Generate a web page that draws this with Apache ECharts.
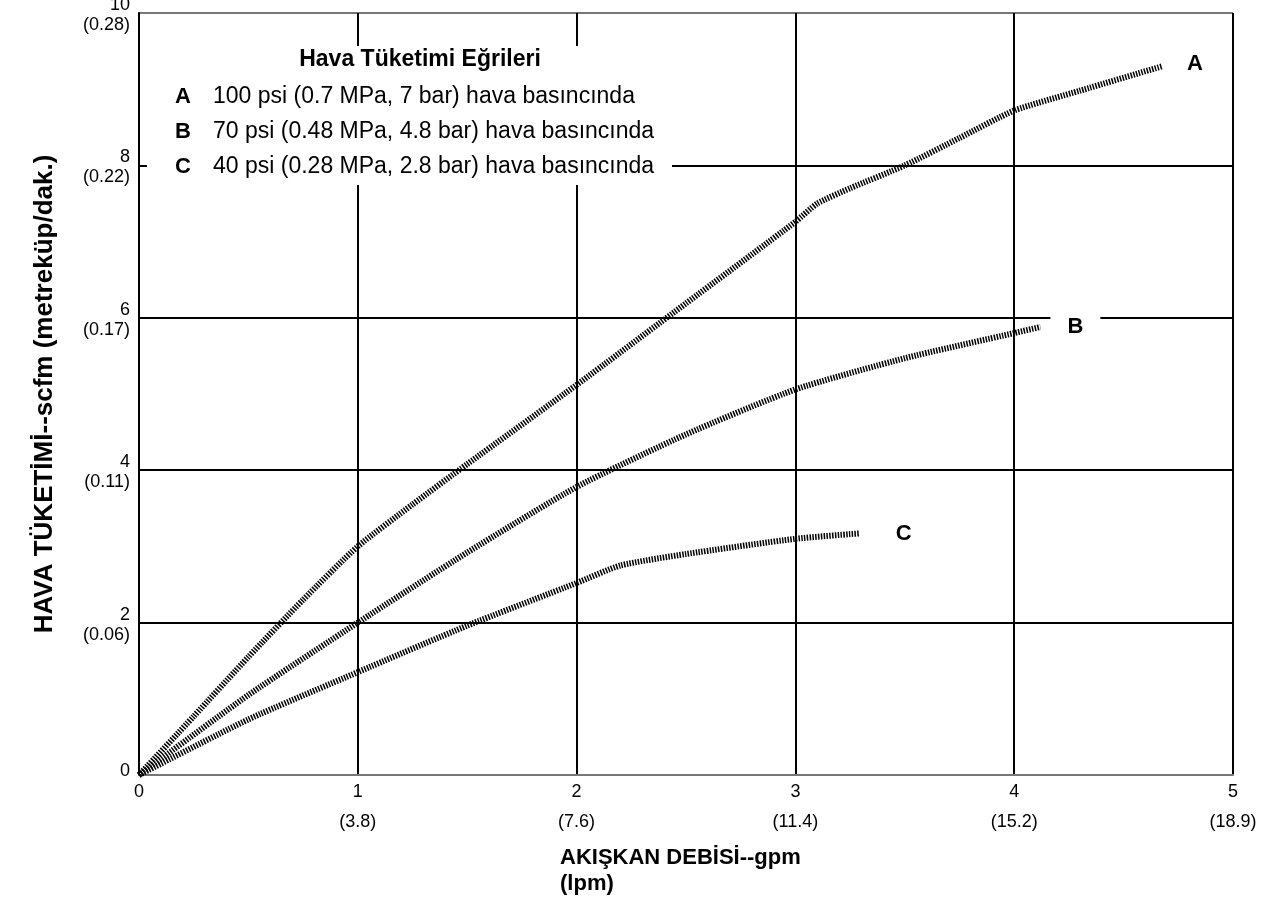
<!DOCTYPE html>
<html>
<head>
<meta charset="utf-8">
<script src="https://cdn.jsdelivr.net/npm/echarts@6/dist/echarts.min.js"></script>
<style>
html,body{margin:0;padding:0;background:#fff;}
#c{width:1279px;height:907px;}
</style>
</head>
<body>
<div id="c"></div>
<script>
// Data (x: gpm, y: scfm)
const curveA = [[0,0],[0.25,0.77],[0.5,1.55],[0.75,2.3],[1,3.0],[1.25,3.55],[1.5,4.08],[2,5.12],[2.5,6.19],[3,7.26],[3.1,7.5],[3.25,7.7],[3.5,8.0],[3.75,8.36],[4,8.72],[4.3,8.98],[4.675,9.3]];
const curveB = [[0,0],[0.5,1.05],[1,2.0],[1.5,2.92],[2,3.78],[2.5,4.47],[3,5.06],[3.5,5.47],[4,5.8],[4.12,5.88]];
const curveC = [[0,0],[0.5,0.73],[1,1.35],[1.5,1.96],[2,2.52],[2.2,2.75],[2.5,2.9],[3,3.1],[3.29,3.17]];
const xTicks = ['0','1','2','3','4','5'];
const xTicksLpm = ['', '(3.8)', '(7.6)', '(11.4)', '(15.2)', '(18.9)'];
const yTicks = ['0','2','4','6','8','10'];
const yTicksCmm = ['', '(0.06)', '(0.11)', '(0.17)', '(0.22)', '(0.28)'];
const seriesNames = ['A','B','C'];
const legendTitle = 'Hava Tüketimi Eğrileri';
const legendRows = ['100 psi (0.7 MPa, 7 bar) hava basıncında','70 psi (0.48 MPa, 4.8 bar) hava basıncında','40 psi (0.28 MPa, 2.8 bar) hava basıncında'];
const xTitle = 'AKIŞKAN DEBİSİ--gpm\n(lpm)';
const yTitle = 'HAVA TÜKETİMİ--scfm (metreküp/dak.)';

const FONT = '"Liberation Sans", Arial, Helvetica, sans-serif';
const chart = echarts.init(document.getElementById('c'));

const lineStyle = {color:'#000', width:6, type:[1.5,1.3], cap:'butt'};
function mkSeries(name, data, dist, pad, off){
  return {
    name, type:'line', data, showSymbol:false, smooth:0.2, lineStyle,
    z:3,
    endLabel:{show:true, formatter:name, fontFamily:FONT, fontWeight:'bold', fontSize:22, color:'#000',
      backgroundColor:'#fff', padding:pad, distance:dist, offset:off}
  };
}

const Z = 100;
const legendChildren = [
  {type:'rect', z:Z, shape:{x:147,y:46,width:525,height:139}, style:{fill:'#fff'}},
  {type:'text', z:Z+1, x:420, y:60, style:{text:legendTitle, font:'bold 23px '+FONT, fill:'#000', align:'center', verticalAlign:'middle'}}
];
seriesNames.forEach((n,i)=>{
  legendChildren.push({type:'text', z:Z+1, x:175, y:97+i*35, style:{text:n, font:'bold 22px '+FONT, fill:'#000', verticalAlign:'middle'}});
  legendChildren.push({type:'text', z:Z+1, x:213, y:97+i*35, style:{text:legendRows[i], font:'23px '+FONT, fill:'#000', verticalAlign:'middle'}});
});

const richY = {
  a:{fontFamily:FONT, fontSize:18, color:'#000', lineHeight:24, align:'right'},
  b:{fontFamily:FONT, fontSize:18, color:'#000', lineHeight:16, align:'right'},
  c:{fontFamily:FONT, fontSize:18, color:'#000', lineHeight:18, padding:[0,0,8,0], align:'right'}
};

chart.setOption({
  animation:false,
  backgroundColor:'#fff',
  grid:{left:139, top:13, right:46, bottom:132, containLabel:false, outerBoundsMode:'none'},
  xAxis:{type:'value', min:0, max:5, interval:1,
    axisLine:{show:true, lineStyle:{color:'#777', width:2}},
    axisTick:{show:false},
    splitLine:{show:true, lineStyle:{color:'#000', width:2}},
    axisLabel:{margin:2, fontFamily:FONT, fontSize:18, color:'#000', lineHeight:30,
      formatter:(v)=>{const i=Math.round(v); return xTicksLpm[i]?xTicks[i]+'\n'+xTicksLpm[i]:xTicks[i];}}
  },
  yAxis:{type:'value', min:0, max:10, interval:2,
    axisLine:{show:true, lineStyle:{color:'#000', width:2}},
    axisTick:{show:false},
    splitLine:{show:true, lineStyle:{color:['#000','#000','#000','#000','#000','#777'], width:2}},
    name:yTitle, nameLocation:'middle', nameRotate:90, nameGap:81,
    nameTextStyle:{fontFamily:FONT, fontWeight:'bold', fontSize:26, color:'#000'},
    axisLabel:{margin:9, fontFamily:FONT, fontSize:18, color:'#000', rich:richY,
      formatter:(v)=>{const i=Math.round(v/2); return yTicksCmm[i]?'{a|'+yTicks[i]+'}\n{b|'+yTicksCmm[i]+'}':'{c|'+yTicks[i]+'}';}}
  },
  series:[
    mkSeries('A', curveA, 10, [2,15], [0,-2]),
    mkSeries('B', curveB, 10, [4,17], [0,0]),
    mkSeries('C', curveC, 22, [2,15], [0,0])
  ],
  graphic:[
    {type:'group', children:legendChildren},
    {type:'text', z:Z, left:560, top:845, style:{text:xTitle, font:'bold 22px '+FONT, fill:'#000', lineHeight:26}}
  ]
});
</script>
</body>
</html>
